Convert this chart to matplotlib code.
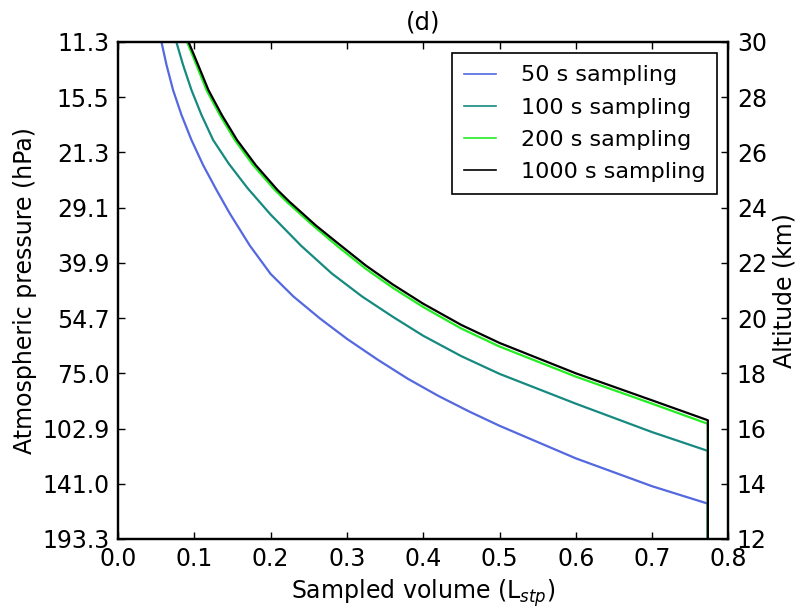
import numpy as np
import matplotlib
matplotlib.use("Agg")
import matplotlib.pyplot as plt

# altitude ticks (km) and the matching pressure labels (hPa)
alt_ticks = [12, 14, 16, 18, 20, 22, 24, 26, 28, 30]
p_labels = ["193.3", "141.0", "102.9", "75.0", "54.7", "39.9", "29.1", "21.3", "15.5", "11.3"]

# sampled volume (L_stp) vs altitude (km)
vol_50 = [0.057, 0.0636, 0.0722, 0.0832, 0.0963, 0.1116, 0.1291, 0.1465, 0.1727, 0.20, 0.23,
          0.265, 0.30, 0.34, 0.38, 0.42, 0.46, 0.50, 0.60, 0.70, 0.773]
alt_50 = [30.0, 29.17, 28.26, 27.36, 26.45, 25.54, 24.64, 23.79, 22.63, 21.6, 20.78,
          19.98, 19.25, 18.5, 17.8, 17.18, 16.62, 16.1, 14.92, 13.91, 13.28]

vol_100 = [0.0765, 0.0853, 0.0963, 0.1094, 0.1247, 0.145, 0.17, 0.20, 0.24, 0.28, 0.32,
           0.36, 0.40, 0.45, 0.50, 0.60, 0.70, 0.773]
alt_100 = [30.0, 29.17, 28.26, 27.36, 26.45, 25.6, 24.7, 23.75, 22.62, 21.62, 20.78,
           20.05, 19.36, 18.62, 17.98, 16.9, 15.87, 15.19]

vol_200 = [0.0906, 0.1028, 0.116, 0.1334, 0.1531, 0.1771, 0.2055, 0.2208, 0.2557, 0.29,
           0.325, 0.36, 0.40, 0.45, 0.50, 0.60, 0.70, 0.773]
alt_200 = [30.0, 29.17, 28.26, 27.36, 26.45, 25.54, 24.64, 24.22, 23.35, 22.55,
           21.78, 21.1, 20.4, 19.62, 18.97, 17.88, 16.9, 16.17]

vol_1000 = [0.0925, 0.105, 0.1185, 0.136, 0.156, 0.1805, 0.209, 0.2245, 0.2595, 0.29,
            0.325, 0.36, 0.40, 0.45, 0.50, 0.60, 0.70, 0.773]
alt_1000 = [30.0, 29.17, 28.26, 27.36, 26.45, 25.54, 24.64, 24.22, 23.35, 22.67,
            21.9, 21.22, 20.52, 19.75, 19.1, 18.0, 17.02, 16.3]

series = [
    ("50 s sampling", vol_50, alt_50, "#5468e0"),
    ("100 s sampling", vol_100, alt_100, "#168a80"),
    ("200 s sampling", vol_200, alt_200, "#22ee22"),
    ("1000 s sampling", vol_1000, alt_1000, "black"),
]

plt.rcParams['font.family'] = ['DejaVu Sans']
fs = 17

fig = plt.figure(figsize=(7.97, 6.08), dpi=100)
ax = fig.add_axes([0.148, 0.1135, 0.766, 0.8175])

for name, v, a, c in series:
    # curve, then straight drop to the bottom at the final volume
    xs = list(v) + [v[-1]]
    ys = list(a) + [12]
    ax.plot(xs, ys, color=c, lw=1.6, label=name)

ax.set_xlim(0, 0.8)
ax.set_ylim(12, 30)
ax.set_xticks(np.arange(0, 0.81, 0.1))
ax.set_xticklabels(["%.1f" % t for t in np.arange(0, 0.81, 0.1)])
ax.set_yticks(alt_ticks)
ax.set_yticklabels(p_labels)
ax.tick_params(direction="in", length=5, width=1, labelsize=fs, top=True, pad=6)
ax.set_xlabel("Sampled volume (L$_{stp}$)", fontsize=fs, labelpad=4)
ax.set_ylabel("Atmospheric pressure (hPa)", fontsize=fs)
ax.set_title("(d)", fontsize=fs + 0.5, pad=9)
for s in ax.spines.values():
    s.set_linewidth(1.6)

ax2 = ax.twinx()
ax2.set_ylim(12, 30)
ax2.set_yticks(alt_ticks)
ax2.tick_params(direction="in", length=5, width=1, labelsize=fs, pad=6)
ax2.set_ylabel("Altitude (km)", fontsize=fs)
for s in ax2.spines.values():
    s.set_linewidth(1.6)

leg = ax.legend(loc="upper right", fontsize=16, handlelength=1.45, handletextpad=1.1,
                labelspacing=0.55, borderpad=0.55, fancybox=False, framealpha=1,
                borderaxespad=0.5)
leg.get_frame().set_edgecolor("black")
leg.get_frame().set_linewidth(1.2)
for ln in leg.get_lines():
    ln.set_linewidth(1.2)

fig.savefig("out.png", dpi=100)
